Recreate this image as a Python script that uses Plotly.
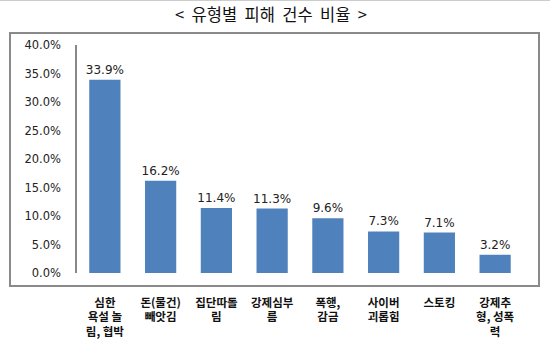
import plotly.graph_objects as go

categories = ["심한<br>욕설 놀<br>림, 협박", "돈(물건)<br>빼앗김", "집단따돌<br>림", "강제심부<br>름",
              "폭행,<br>감금", "사이버<br>괴롭힘", "스토킹", "강제추<br>형, 성폭<br>력"]
values = [33.9, 16.2, 11.4, 11.3, 9.6, 7.3, 7.1, 3.2]
title = "<\u00a0\u00a0유형별\u00a0\u00a0피해\u00a0\u00a0건수\u00a0\u00a0비율\u00a0\u00a0>"

W, H = 550, 340
L, R, T, B = 77, 27, 45, 67
pw, ph = W - L - R, H - T - B

fig = go.Figure(go.Bar(
    x=categories, y=values,
    marker=dict(color="#4F81BD", line=dict(width=0)),
    text=[f"{v:.1f}%" for v in values],
    textposition="outside",
    constraintext="none",
    textfont=dict(family="DejaVu Sans", size=12, color="#222"),
    cliponaxis=False,
))

def px_x(x):
    return (x - L) / pw

def px_y(y):
    return (H - B - y) / ph

fig.update_layout(
    width=W, height=H,
    margin=dict(l=L, r=R, t=T, b=B, autoexpand=False),
    paper_bgcolor="white", plot_bgcolor="white",
    bargap=0.44,
    showlegend=False,
    title=dict(text=title, x=271 / W, xref="container", xanchor="center",
               y=1 - 15 / H, yref="container", yanchor="middle",
               font=dict(family="Noto Sans CJK KR", size=16.5, color="#111")),
    xaxis=dict(showline=False, showgrid=False, ticks="", automargin=False,
               tickfont=dict(family="Noto Sans CJK KR", size=11.5, color="#111", weight="bold"),
               ticklabelstandoff=21),
    yaxis=dict(range=[0, 40], dtick=5, tickformat=".1f", ticksuffix="%", automargin=False,
               showgrid=False, zeroline=False, showline=True, linecolor="#888",
               linewidth=1.5, ticks="", ticklabelstandoff=12,
               tickfont=dict(family="DejaVu Sans", size=11.5, color="#222")),
    shapes=[
        dict(type="rect", xref="paper", yref="paper",
             x0=px_x(10), x1=px_x(539), y0=px_y(286), y1=px_y(33),
             line=dict(color="#8a8a8a", width=2), fillcolor="rgba(0,0,0,0)", layer="below"),
        dict(type="line", xref="paper", yref="paper",
             x0=px_x(0), x1=px_x(550), y0=px_y(0.5), y1=px_y(0.5),
             line=dict(color="#cccccc", width=1)),
    ],
)

fig.write_html("out.html")
